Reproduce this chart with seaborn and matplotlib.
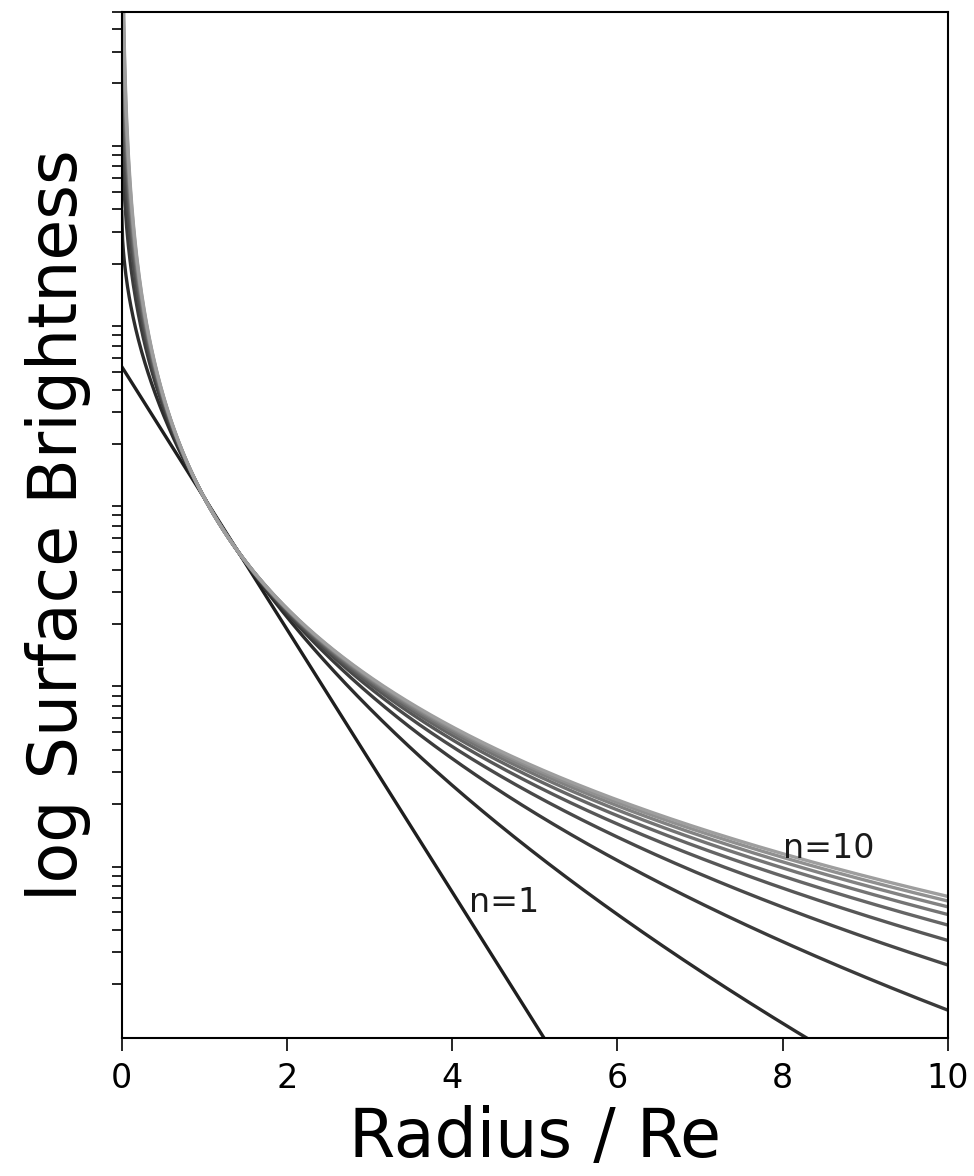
import numpy as np
import pandas as pd
import matplotlib
matplotlib.use("Agg")
import matplotlib.pyplot as plt
import seaborn as sns
from matplotlib.ticker import LogLocator, NullFormatter, NullLocator

# Sersic indices of the plotted profiles
sersic_n = [1, 2, 3, 4, 5, 6, 7, 8, 9, 10]
# Radius in units of the effective radius
radius = np.linspace(0.0, 10.0, 1001)

# Curve annotations: (text, x, y)
annotations = [("n=1", 4.2, 5e-3), ("n=10", 8.0, 1e-2)]


def sersic(r, n):
    """Sersic surface brightness normalised to I(Re) = 1."""
    b = 2.0 * n - 1.0 / 3.0 + 4.0 / (405.0 * n) + 46.0 / (25515.0 * n ** 2)
    return np.exp(-b * (r ** (1.0 / n) - 1.0))


df = pd.concat(
    [pd.DataFrame({"radius": radius, "I": sersic(radius, n), "n": n}) for n in sersic_n],
    ignore_index=True,
)

sns.set_style("ticks")
plt.rcParams["font.family"] = ["DejaVu Sans"]
plt.rcParams["text.color"] = "black"
plt.rcParams["axes.labelcolor"] = "black"
plt.rcParams["xtick.color"] = "black"
plt.rcParams["ytick.color"] = "black"

fig = plt.figure(figsize=(9.74, 11.76), dpi=100)
ax = fig.add_axes([0.125, 0.117, 0.848, 0.873])

greys = [plt.cm.gray(v) for v in np.linspace(0.12, 0.62, len(sersic_n))]
sns.lineplot(data=df, x="radius", y="I", hue="n", palette=greys,
             linewidth=2.4, legend=False, ax=ax, sort=False)

ax.set_yscale("log")
ax.set_xlim(0, 10)
ax.set_ylim(1e-3, 5e2)
ax.set_xticks([0, 2, 4, 6, 8, 10])

# y axis: minor log ticks only, no labels
ax.yaxis.set_major_locator(NullLocator())
ax.yaxis.set_minor_locator(LogLocator(base=10, subs=np.arange(2, 10), numticks=20))
ax.yaxis.set_minor_formatter(NullFormatter())

ax.tick_params(axis="x", which="major", length=9, width=1.2, labelsize=24,
               direction="out", pad=8, colors="black")
ax.tick_params(axis="y", which="minor", length=7, width=1.2, direction="out",
               colors="black")
for s in ax.spines.values():
    s.set_linewidth(1.5)
    s.set_color("black")
    s.set_visible(True)

for txt, x, y in annotations:
    ax.text(x, y, txt, fontsize=24, color="#1a1a1a", ha="left", va="baseline")

ax.set_xlabel("Radius / Re", fontsize=48, labelpad=7, color="black")
ax.set_ylabel("log Surface Brightness", fontsize=48, labelpad=12, color="black")

fig.savefig("out.png", dpi=100, facecolor="white")
